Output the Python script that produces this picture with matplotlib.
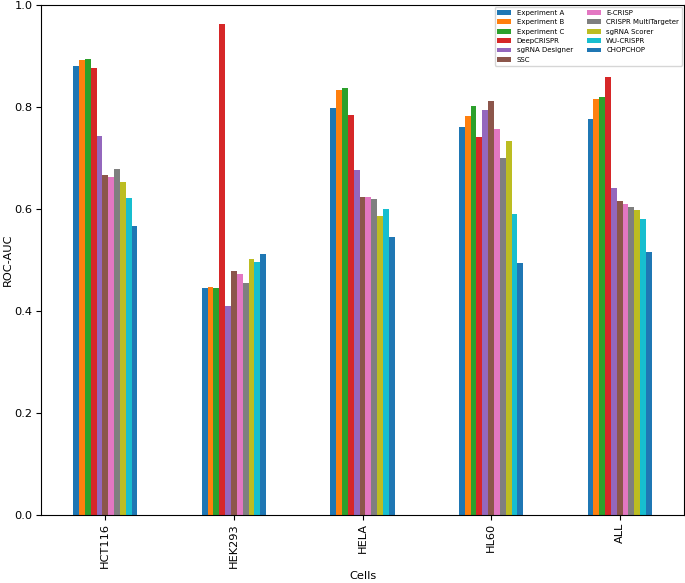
import numpy as np
import matplotlib
matplotlib.use('Agg')
import matplotlib.pyplot as plt

cells = ['HCT116', 'HEK293', 'HELA', 'HL60', 'ALL']
methods = ['Experiment A', 'Experiment B', 'Experiment C', 'DeepCRISPR',
           'sgRNA Designer', 'SSC', 'E-CRISP', 'CRISPR MultiTargeter',
           'sgRNA Scorer', 'WU-CRISPR', 'CHOPCHOP']

# ROC-AUC per method, one value per cell line (same order as cells)
exp_a = [0.880, 0.444, 0.798, 0.760, 0.775]
exp_b = [0.892, 0.446, 0.833, 0.782, 0.816]
exp_c = [0.893, 0.445, 0.837, 0.801, 0.820]
deepcrispr = [0.875, 0.962, 0.783, 0.740, 0.858]
sgrna_designer = [0.742, 0.410, 0.676, 0.793, 0.640]
ssc = [0.666, 0.477, 0.622, 0.812, 0.616]
e_crisp = [0.662, 0.471, 0.623, 0.756, 0.610]
multitargeter = [0.677, 0.455, 0.620, 0.700, 0.603]
sgrna_scorer = [0.653, 0.501, 0.585, 0.732, 0.598]
wu_crisp = [0.621, 0.496, 0.599, 0.589, 0.580]
chopchop = [0.567, 0.512, 0.544, 0.493, 0.516]

series = [exp_a, exp_b, exp_c, deepcrispr, sgrna_designer, ssc, e_crisp,
          multitargeter, sgrna_scorer, wu_crisp, chopchop]

colors = plt.rcParams['axes.prop_cycle'].by_key()['color']

fig = plt.figure(figsize=(6.85, 5.83), dpi=100)
ax = fig.add_axes([41 / 685, 1 - 514.7 / 583, 643 / 685, 510 / 583])

x = np.arange(len(cells))
n = len(series)
w = 0.5 / n
for i, (name, vals) in enumerate(zip(methods, series)):
    ax.bar(x - 0.25 + (i + 0.5) * w, vals, w, color=colors[i % len(colors)], label=name)

ax.set_xlim(-0.5, len(cells) - 0.5)
ax.set_ylim(0, 1.0)
ax.set_yticks(np.arange(0, 1.01, 0.2))
ax.set_xticks(x)
ax.set_xticklabels(cells, rotation=90)
ax.tick_params(labelsize=8.2, pad=2.5)
ax.set_xlabel('Cells', fontsize=8.2, labelpad=2)
ax.set_ylabel('ROC-AUC', fontsize=8.2, labelpad=1)
ax.legend(loc='upper right', ncol=2, fontsize=5, borderaxespad=0.3)

fig.savefig('out.png', dpi=100)
